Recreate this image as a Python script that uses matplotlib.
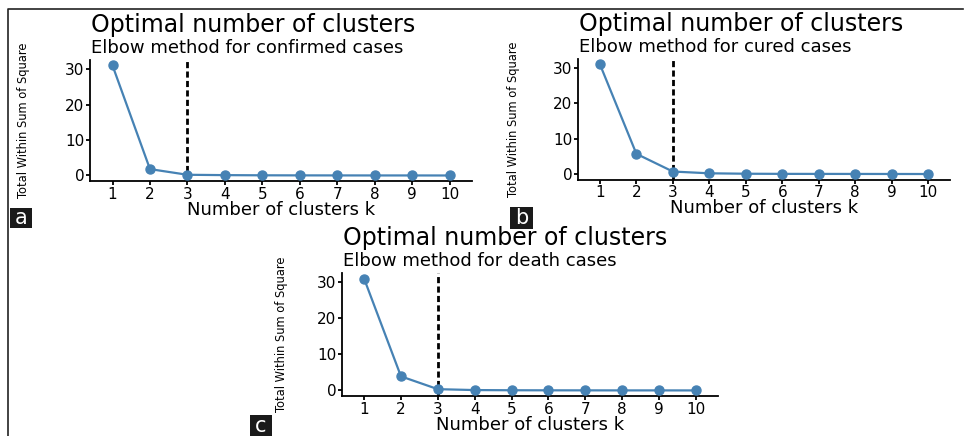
import matplotlib
matplotlib.use("Agg")
import matplotlib.pyplot as plt
from matplotlib.lines import Line2D
from matplotlib.patches import Rectangle

# elbow curves (total within sum of squares) for k = 1..10
k = [1, 2, 3, 4, 5, 6, 7, 8, 9, 10]
confirmed = [31, 1.8, 0.2, 0.1, 0.05, 0.03, 0.02, 0.01, 0.01, 0.0]
cured = [31, 5.7, 0.7, 0.2, 0.08, 0.04, 0.03, 0.02, 0.01, 0.0]
death = [31, 3.9, 0.35, 0.1, 0.05, 0.03, 0.02, 0.01, 0.01, 0.0]
subtitles = ["Elbow method for confirmed cases",
             "Elbow method for cured cases",
             "Elbow method for death cases"]
panel_tags = ["a", "b", "c"]
best_k = 3
yticks = [0, 10, 20, 30]

plt.rcParams['font.family'] = ['DejaVu Sans']
blue = '#4682B4'

fig = plt.figure(figsize=(9.65, 4.36), dpi=100)

# axes boxes (left, bottom, width, height) in figure fraction
boxes = [[0.0933, 0.5849, 0.3959, 0.2775],
         [0.5990, 0.5883, 0.3855, 0.2768],
         [0.3544, 0.0917, 0.3896, 0.2820]]
ylab_x = [-0.157, -0.156, -0.144]
# tag boxes in pixels (x0, y0 from top, w, h)
tag_px = [[10, 208, 22, 20], [510, 207, 23, 22], [250, 415, 22, 21]]

W, H = 965.0, 436.0

for i, series in enumerate([confirmed, cured, death]):
    ax = fig.add_axes(boxes[i])
    ax.plot(k, series, color=blue, lw=1.6, marker='o', ms=6.5, zorder=3)
    ax.axvline(best_k, color='black', lw=2, linestyle=(0, (2.2, 1.2)), zorder=2)
    ax.set_xlim(0.4, 10.6)
    ax.set_ylim(-1.55, 32.55)
    ax.set_xticks(k)
    ax.set_yticks(yticks)
    for s in ['top', 'right']:
        ax.spines[s].set_visible(False)
    for s in ['left', 'bottom']:
        ax.spines[s].set_linewidth(1.3)
    ax.tick_params(length=3, width=1.3, labelsize=11, pad=1, colors='black')
    ax.set_xlabel("Number of clusters k", fontsize=13, labelpad=-0.5)
    ax.set_ylabel("Total Within Sum of Square", fontsize=9.2,
                  family='DejaVu Sans', stretch='condensed')
    ax.yaxis.set_label_coords(ylab_x[i], 0.5)
    ax.annotate("Optimal number of clusters", xy=(0, 1), xycoords='axes fraction',
                xytext=(1, 20), textcoords='offset points', fontsize=17,
                va='baseline', ha='left')
    ax.annotate(subtitles[i], xy=(0, 1), xycoords='axes fraction',
                xytext=(1, 5), textcoords='offset points', fontsize=13,
                va='baseline', ha='left')

    x0, y0, w, h = tag_px[i]
    fig.patches.append(Rectangle((x0 / W, 1 - (y0 + h) / H), w / W, h / H,
                                 transform=fig.transFigure, facecolor='#1a1a1a',
                                 edgecolor='none'))
    fig.text((x0 + w / 2) / W, 1 - (y0 + h / 2) / H, panel_tags[i], color='white',
             fontsize=15, ha='center', va='center')

# frame lines (left and top)
fig.lines.append(Line2D([8 / W, 8 / W, 963 / W], [0, 1 - 9 / H, 1 - 9 / H],
                        transform=fig.transFigure, color='#222222', lw=1.2))

fig.savefig('out.png', dpi=100)
